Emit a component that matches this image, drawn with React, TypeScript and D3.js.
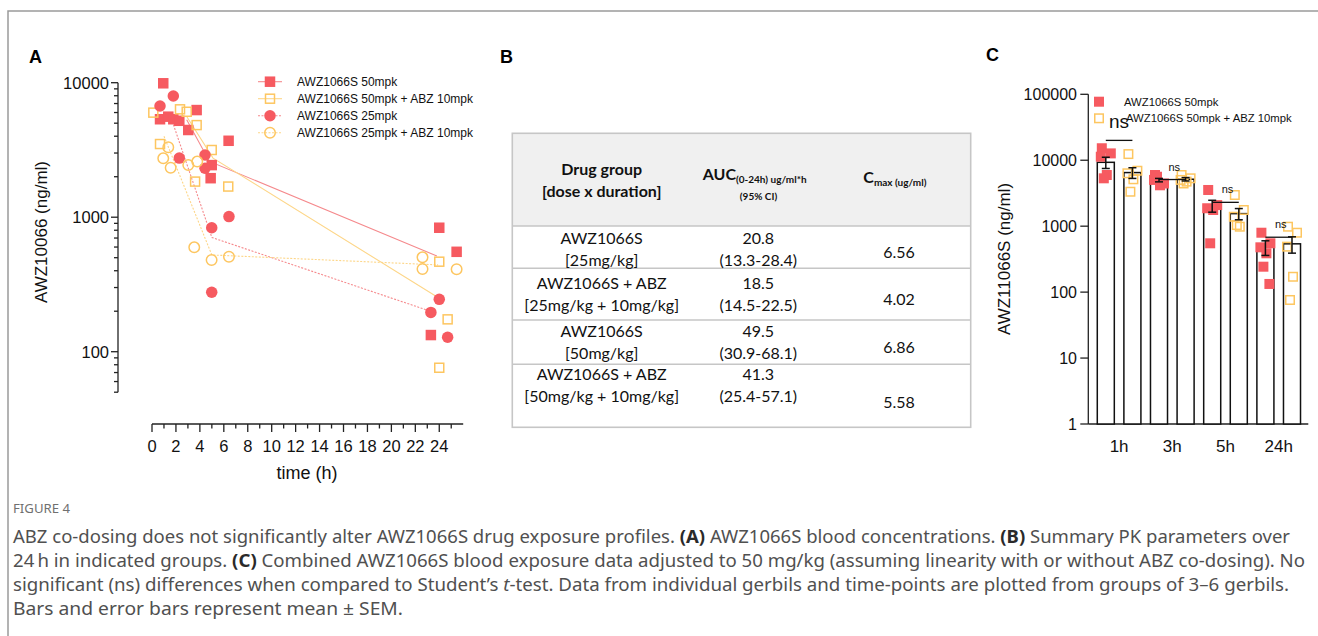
import React from 'react';
import * as d3 from 'd3';

const RED = '#f65a60';
const YEL = '#fdc660';
const RED_LINE = '#f5898c';
const YEL_LINE = '#fdd688';

// ---- panel A: individual concentrations (ng/ml) vs time (h)
const red50T = [0.94, 0.67, 1.36, 1.78, 2.28, 3.03, 3.73, 4.99, 4.9, 6.4, 24.0, 25.45, 23.3];
const red50V = [9900, 5350, 5590, 5350, 5210, 4450, 6260, 2440, 1950, 3700, 835, 553, 133];
const yel50T = [0.11, 2.34, 2.9, 3.73, 4.99, 3.6, 6.37, 0.67, 24.0, 24.7, 24.0];
const yel50V = [5990, 6340, 6080, 4840, 3160, 1840, 1690, 3500, 467, 174, 76];
const red25T = [1.78, 0.67, 2.28, 4.43, 4.43, 6.43, 4.99, 4.99, 24.0, 23.3, 24.7];
const red25V = [7960, 6710, 2750, 2900, 2310, 1010, 835, 277, 245, 196, 128];
const yel25T = [1.36, 0.94, 1.56, 3.03, 3.78, 3.53, 4.98, 6.43, 22.6, 22.6, 25.45];
const yel25V = [3310, 2740, 2330, 2440, 2590, 597, 481, 508, 503, 412, 410];

// mean lines
const red50MeanT = [2.9, 4.8, 23.8];
const red50MeanV = [5300, 2600, 515];
const yel50MeanT = [2.9, 5.1, 24.0];
const yel50MeanV = [5600, 2750, 250];
const red25MeanT = [1.6, 5.0, 23.4];
const red25MeanV = [5460, 707, 198];
const yel25MeanT = [1.0, 5.0, 23.9];
const yel25MeanV = [4000, 524, 442];

const legendA = [
  'AWZ1066S 50mpk',
  'AWZ1066S 50mpk + ABZ 10mpk',
  'AWZ1066S 25mpk',
  'AWZ1066S 25mpk + ABZ 10mpk',
];
const xTicksA = [0, 2, 4, 6, 8, 10, 12, 14, 16, 18, 20, 22, 24];

// ---- panel B: table
const bGroupLine1 = ['AWZ1066S', 'AWZ1066S + ABZ', 'AWZ1066S', 'AWZ1066S + ABZ'];
const bGroupLine2 = ['[25mg/kg]', '[25mg/kg + 10mg/kg]', '[50mg/kg]', '[50mg/kg + 10mg/kg]'];
const bAuc = ['20.8', '18.5', '49.5', '41.3'];
const bAucCI = ['(13.3-28.4)', '(14.5-22.5)', '(30.9-68.1)', '(25.4-57.1)'];
const bCmax = ['6.56', '4.02', '6.86', '5.58'];

// ---- panel C: combined exposure
const cGroups = ['1h', '3h', '5h', '24h'];
const cRedMean = [9300, 5000, 2050, 480];
const cRedSem = [1800, 300, 420, 120];
const cYelMean = [6500, 5150, 1550, 540];
const cYelSem = [1200, 300, 300, 150];
const cRedPts = [
  [15200, 12700, 11300, 5970, 5320],
  [5970, 4440, 5030, 4170, 5620],
  [3540, 2090, 1870, 1760, 550],
  [796, 550, 478, 388, 243, 133],
];
const cYelPts = [
  [12400, 6930, 6340, 5140, 3330],
  [5970, 5320, 5030, 4740, 4440],
  [2970, 1760, 1390, 982, 1040],
  [982, 796, 489, 171, 76],
];
const cNsLevel = [20000, 5100, 2300, 680];
const cYTicks = [1, 10, 100, 1000, 10000, 100000];

const jitter = [-4, 5, -5, 1, -2, 4];

function Marker({ x, y, shape, filled, color, size = 10 }: any) {
  if (shape === 'square') {
    const s = filled ? size : size - 1.5;
    return (
      <rect x={x - s / 2} y={y - s / 2} width={s} height={s}
        fill={filled ? color : 'none'} stroke={filled ? 'none' : color} strokeWidth={1.5} />
    );
  }
  const r = filled ? size / 2 + 0.5 : size / 2;
  return <circle cx={x} cy={y} r={r} fill={filled ? color : 'none'} stroke={filled ? 'none' : color} strokeWidth={1.5} />;
}

export default function App() {
  const font = '"Liberation Sans", Arial, sans-serif';
  const tfont = 'Lato, "Open Sans", sans-serif';

  // A scales
  const xA = d3.scaleLinear().domain([0, 26]).range([152, 463.2]);
  const yA = d3.scaleLog().domain([50, 10000]).range([392.2, 82.7]);

  const seriesA = [
    { t: red50T, v: red50V, mt: red50MeanT, mv: red50MeanV, shape: 'square', filled: true, color: RED, lc: RED_LINE, dash: null },
    { t: yel50T, v: yel50V, mt: yel50MeanT, mv: yel50MeanV, shape: 'square', filled: false, color: YEL, lc: YEL_LINE, dash: null },
    { t: red25T, v: red25V, mt: red25MeanT, mv: red25MeanV, shape: 'circle', filled: true, color: RED, lc: RED_LINE, dash: '2 1.5' },
    { t: yel25T, v: yel25V, mt: yel25MeanT, mv: yel25MeanV, shape: 'circle', filled: false, color: YEL, lc: YEL_LINE, dash: '2 1.5' },
  ];

  const meanPath = (mt: number[], mv: number[]) =>
    d3.line<number>().x((d, i) => xA(mt[i])).y((d) => yA(d))(mv) || '';

  const yAll = yA.ticks();
  const yMajorA = [100, 1000, 10000];
  const xMinorA = d3.range(1, 27, 2);

  // C scales
  const x0 = d3.scaleBand<string>().domain(cGroups).range([1092.5, 1305.3]);
  const x1 = d3.scaleBand<number>().domain([0, 1]).range([0, x0.bandwidth()]).paddingInner(0.36).paddingOuter(0.18);
  const yC = d3.scaleLog().domain([1, 100000]).range([424, 94.3]);
  const bw = x1.bandwidth();

  // B table layout
  const rowTop = [226, 268.3, 320, 364.3];
  const rowOff = [18, 21, 17.3, 15.7];
  const cmaxY = [253.3, 300, 348.3, 402.7];
  const colX = [601.7, 758.3, 899];

  const captionColor = '#505050';

  return (
    <svg width={1318} height={636} style={{ position: 'absolute', left: 0, top: 0, background: '#fff' }}>
      <path d="M8,636 V11 H1318" fill="none" stroke="#9a9a9a" strokeWidth={1.5} />

      {/* ===== Panel A ===== */}
      <text x={29} y={63} fontFamily={font} fontWeight="bold" fontSize={18}>A</text>
      <line x1={118} x2={118} y1={yA(10000)} y2={yA(50)} stroke="#222" strokeWidth={1.3} />
      {yAll.map((v) => {
        const major = yMajorA.includes(v);
        return <line key={'ya' + v} x1={major ? 111 : 114} x2={118} y1={yA(v)} y2={yA(v)} stroke="#222" strokeWidth={1.3} />;
      })}
      {yMajorA.map((v) => (
        <text key={'yl' + v} x={109} y={yA(v) + 6} textAnchor="end" fontFamily={font} fontSize={16.5} fill="#111">{v}</text>
      ))}
      <text transform={`translate(47,232) rotate(-90)`} textAnchor="middle" fontFamily={font} fontSize={17} fill="#111">AWZ10066 (ng/ml)</text>
      <line x1={xA(0)} x2={xA(26)} y1={424} y2={424} stroke="#222" strokeWidth={1.3} />
      {xTicksA.map((t) => (
        <g key={'xa' + t}>
          <line x1={xA(t)} x2={xA(t)} y1={424} y2={432} stroke="#222" strokeWidth={1.3} />
          <text x={xA(t)} y={452} textAnchor="middle" fontFamily={font} fontSize={16.5} fill="#111">{t}</text>
        </g>
      ))}
      {xMinorA.map((t) => (
        <line key={'xm' + t} x1={xA(t)} x2={xA(t)} y1={424} y2={428.5} stroke="#222" strokeWidth={1.3} />
      ))}
      <text x={307} y={479} textAnchor="middle" fontFamily={font} fontSize={18} fill="#111">time (h)</text>

      {seriesA.map((s, i) => (
        <path key={'ml' + i} d={meanPath(s.mt, s.mv)} fill="none" stroke={s.lc} strokeWidth={1.1}
          strokeDasharray={s.dash || undefined} />
      ))}
      {seriesA.map((s, i) => (
        <g key={'pts' + i}>
          {s.v.map((v, j) => (
            <Marker key={j} x={xA(s.t[j])} y={yA(v)} shape={s.shape} filled={s.filled} color={s.color} size={10.5} />
          ))}
        </g>
      ))}
      {seriesA.map((s, i) => {
        const cy = 81.7 + i * 17;
        return (
          <g key={'lg' + i}>
            <line x1={258} x2={282} y1={cy} y2={cy} stroke={s.lc} strokeWidth={1.1} strokeDasharray={s.dash || undefined} />
            <Marker x={270} y={cy} shape={s.shape} filled={s.filled} color={s.color} size={10.5} />
            <text x={297} y={cy + 4.3} fontFamily={font} fontSize={12} fill="#111">{legendA[i]}</text>
          </g>
        );
      })}

      {/* ===== Panel B ===== */}
      <text x={500} y={63} fontFamily={font} fontWeight="bold" fontSize={18}>B</text>
      <rect x={512.3} y={133.3} width={458.4} height={92.7} fill="#f0f0f0" />
      <rect x={512.3} y={133.3} width={458.4} height={294} fill="none" stroke="#c6c6c6" strokeWidth={1.6} />
      {[226, 268.3, 320, 364.3].map((y) => (
        <line key={'rl' + y} x1={512.3} x2={970.7} y1={y} y2={y} stroke="#c6c6c6" strokeWidth={1.6} />
      ))}
      <g fontFamily={tfont} fill="#111">
        <text x={colX[0]} y={175} textAnchor="middle" fontSize={16} fontWeight="bold">Drug group</text>
        <text x={colX[0]} y={196.7} textAnchor="middle" fontSize={16} fontWeight="bold">[dose x duration]</text>
        <text x={702.7} y={180} fontSize={16} fontWeight="bold">AUC<tspan fontSize={10} dy={3}>(0-24h) ug/ml*h</tspan></text>
        <text x={758.5} y={200} textAnchor="middle" fontSize={10} fontWeight="bold">(95% CI)</text>
        <text x={863.3} y={183.3} fontSize={16} fontWeight="bold">C<tspan fontSize={10} dy={3}>max (ug/ml)</tspan></text>
        {bGroupLine1.map((g, i) => {
          const y1 = rowTop[i] + rowOff[i];
          return (
            <g key={'row' + i}>
              <text x={colX[0]} y={y1} textAnchor="middle" fontSize={16}>{g}</text>
              <text x={colX[0]} y={y1 + 22} textAnchor="middle" fontSize={16}>{bGroupLine2[i]}</text>
              <text x={colX[1]} y={y1} textAnchor="middle" fontSize={16}>{bAuc[i]}</text>
              <text x={colX[1]} y={y1 + 22} textAnchor="middle" fontSize={16}>{bAucCI[i]}</text>
              <text x={colX[2]} y={cmaxY[i] + 5} textAnchor="middle" fontSize={16}>{bCmax[i]}</text>
            </g>
          );
        })}
      </g>

      {/* ===== Panel C ===== */}
      <text x={986} y={61} fontFamily={font} fontWeight="bold" fontSize={18}>C</text>
      <line x1={1088.3} x2={1088.3} y1={yC(100000)} y2={yC(1)} stroke="#222" strokeWidth={1.3} />
      <line x1={1088.3} x2={1308.3} y1={424} y2={424} stroke="#222" strokeWidth={1.3} />
      {cYTicks.map((v) => (
        <g key={'yc' + v}>
          <line x1={1080.3} x2={1088.3} y1={yC(v)} y2={yC(v)} stroke="#222" strokeWidth={1.3} />
          <text x={1077} y={yC(v) + 6} textAnchor="end" fontFamily={font} fontSize={16} fill="#111">{v}</text>
        </g>
      ))}
      <text transform={`translate(1010,259) rotate(-90)`} textAnchor="middle" fontFamily={font} fontSize={17} fill="#111">AWZ11066S (ng/ml)</text>
      {cGroups.map((g) => (
        <text key={'xl' + g} x={(x0(g) as number) + x0.bandwidth() / 2} y={452} textAnchor="middle" fontFamily={font} fontSize={17} fill="#111">{g}</text>
      ))}
      {cGroups.map((g, gi) => (
        <g key={'bars' + g}>
          {[cRedMean[gi], cYelMean[gi]].map((m, k) => {
            const bx = (x0(g) as number) + (x1(k) as number);
            return <rect key={k} x={bx} y={yC(m)} width={bw} height={424 - yC(m)} fill="#fff" stroke="#111" strokeWidth={1.5} />;
          })}
        </g>
      ))}
      {cGroups.map((g, gi) => (
        <g key={'cp' + g}>
          {cRedPts[gi].map((v, j) => (
            <Marker key={'r' + j} x={(x0(g) as number) + (x1(0) as number) + bw / 2 + jitter[j]} y={yC(v)} shape="square" filled color={RED} size={10} />
          ))}
          {cYelPts[gi].map((v, j) => (
            <Marker key={'y' + j} x={(x0(g) as number) + (x1(1) as number) + bw / 2 + jitter[j]} y={yC(v)} shape="square" filled={false} color={YEL} size={10} />
          ))}
        </g>
      ))}
      {cGroups.map((g, gi) => (
        <g key={'eb' + g}>
          {[[cRedMean[gi], cRedSem[gi]], [cYelMean[gi], cYelSem[gi]]].map(([m, s], k) => {
            const cx = (x0(g) as number) + (x1(k) as number) + bw / 2;
            return (
              <g key={k} stroke="#111" strokeWidth={1.5}>
                <line x1={cx} x2={cx} y1={yC(m + s)} y2={yC(m - s)} />
                <line x1={cx - 4} x2={cx + 4} y1={yC(m + s)} y2={yC(m + s)} />
                <line x1={cx - 4} x2={cx + 4} y1={yC(m - s)} y2={yC(m - s)} />
              </g>
            );
          })}
        </g>
      ))}
      {cGroups.map((g, gi) => {
        const a = (x0(g) as number) + (x1(0) as number) + bw / 2;
        const b = (x0(g) as number) + (x1(1) as number) + bw / 2;
        const y = yC(cNsLevel[gi]);
        const big = gi === 0;
        return (
          <g key={'ns' + g}>
            <line x1={a} x2={b} y1={y} y2={y} stroke="#111" strokeWidth={1.3} />
            <text x={(a + b) / 2 + (big ? 0 : 2)} y={big ? y - 12 : y - 9} textAnchor="middle" fontFamily={font} fontSize={big ? 19 : 11} fill="#111">ns</text>
          </g>
        );
      })}
      <Marker x={1099} y={101.7} shape="square" filled color={RED} size={10} />
      <Marker x={1099} y={118.3} shape="square" filled={false} color={YEL} size={10} />
      <text x={1124} y={105.5} fontFamily={font} fontSize={11.3} fill="#111">AWZ1066S 50mpk</text>
      <text x={1126} y={122} fontFamily={font} fontSize={11.3} fill="#111">AWZ1066S 50mpk + ABZ 10mpk</text>

      {/* ===== Caption ===== */}
      <g fontFamily='"Noto Sans", sans-serif' fill={captionColor}>
        <text x={13} y={513} fontSize={13} fill="#707070" textLength={57} lengthAdjust="spacingAndGlyphs">FIGURE 4</text>
        <text x={13} y={543} fontSize={18} textLength={1277} lengthAdjust="spacingAndGlyphs">
          ABZ co-dosing does not significantly alter AWZ1066S drug exposure profiles. <tspan fontWeight="bold" fill="#2a2a2a">(A)</tspan> AWZ1066S blood concentrations. <tspan fontWeight="bold" fill="#2a2a2a">(B)</tspan> Summary PK parameters over
        </text>
        <text x={13} y={567} fontSize={18} textLength={1292} lengthAdjust="spacingAndGlyphs">
          24{'\u2009'}h in indicated groups. <tspan fontWeight="bold" fill="#2a2a2a">(C)</tspan> Combined AWZ1066S blood exposure data adjusted to 50 mg/kg (assuming linearity with or without ABZ co-dosing). No
        </text>
        <text x={13} y={591} fontSize={18} textLength={1276} lengthAdjust="spacingAndGlyphs">
          significant (ns) differences when compared to Student{'\u2019'}s <tspan fontStyle="italic">t</tspan>-test. Data from individual gerbils and time-points are plotted from groups of 3{'\u2013'}6 gerbils.
        </text>
        <text x={13} y={615} fontSize={18} textLength={390} lengthAdjust="spacingAndGlyphs">
          Bars and error bars represent mean ± SEM.
        </text>
      </g>
    </svg>
  );
}
